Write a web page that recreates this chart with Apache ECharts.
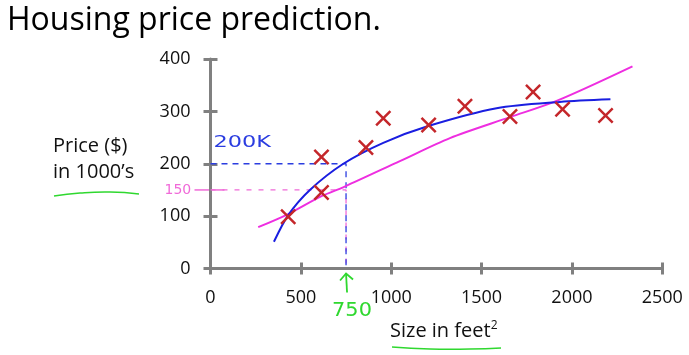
<!DOCTYPE html>
<html>
<head>
<meta charset="utf-8">
<script src="https://cdn.jsdelivr.net/npm/echarts@6/dist/echarts.min.js"></script>
<style>
  html, body { margin: 0; padding: 0; background: #fff; }
  #main { width: 689px; height: 355px; }
</style>
</head>
<body>
<div id="main"></div>
<script>
var dom = document.getElementById('main');
var myChart = echarts.init(dom);

// training examples (size in feet^2, price in $1000's)
var sizes  = [430, 614, 614, 860, 956, 1207, 1408, 1657, 1785, 1948, 2186];
var prices = [99, 145, 213, 231, 287, 274, 310, 290, 337, 304, 292];

// hand drawn straight-ish fit (magenta)
var lineX = [264, 430, 614, 740, 1048, 1325, 1657, 1915, 2335];
var lineY = [79, 104, 138, 156, 205, 249, 289, 320, 386];

// hand drawn quadratic-ish fit (blue)
var curveX = [351, 430, 550, 735, 956, 1205, 1583, 1933, 2213];
var curveY = [51, 102, 150, 200, 240, 272, 306, 318, 323];

// prediction for a 750 ft^2 house
var querySize = 750;
var predBlue = 200;
var predPink = 150;

var xTicks = [0, 500, 1000, 1500, 2000, 2500];
var yTicks = [0, 100, 200, 300, 400];

function zip(a, b) {
  return a.map(function (v, i) { return [v, b[i]]; });
}

var axisGray = '#808080';
var labelFont = { color: '#111', fontSize: 18, fontFamily: 'Open Sans', formatter: function (v) { return String(v); } };
var crossSymbol = 'path://M0,2.2L2.2,0L10,7.8L17.8,0L20,2.2L12.2,10L20,17.8L17.8,20L10,12.2L2.2,20L0,17.8L7.8,10Z';

var option = {
  animation: false,
  grid: { left: 210.5, right: 26.7, top: 59, bottom: 86.5 },
  xAxis: [{
    type: 'value', min: xTicks[0], max: xTicks[xTicks.length - 1], interval: 500,
    splitLine: { show: false },
    axisLine: { lineStyle: { color: axisGray, width: 3 } },
    axisTick: { length: 6, lineStyle: { color: axisGray, width: 3 } },
    axisLabel: Object.assign({ margin: 20 }, labelFont)
  }, {
    type: 'value', position: 'bottom', min: 0, max: 2500, interval: 500,
    splitLine: { show: false },
    axisLine: { show: false },
    axisTick: { inside: true, length: 6, lineStyle: { color: axisGray, width: 3 } },
    axisLabel: { show: false }
  }],
  yAxis: [{
    type: 'value', min: yTicks[0], max: yTicks[yTicks.length - 1], interval: 100,
    splitLine: { show: false },
    axisLine: { show: true, lineStyle: { color: axisGray, width: 3 } },
    axisTick: { show: true, length: 7, lineStyle: { color: axisGray, width: 3 } },
    axisLabel: Object.assign({ margin: 20 }, labelFont)
  }, {
    type: 'value', position: 'left', min: 0, max: 400, interval: 100,
    splitLine: { show: false },
    axisLine: { show: false },
    axisTick: { show: true, inside: true, length: 7, lineStyle: { color: axisGray, width: 3 } },
    axisLabel: { show: false }
  }],
  series: [{
    name: 'pred150',
    type: 'line',
    data: [[0, predPink], [querySize, predPink], [querySize, 0]],
    symbol: 'none',
    lineStyle: { color: '#f06ad8', width: 1.3, type: [5, 7] },
    z: 1
  }, {
    name: 'pred200',
    type: 'line',
    data: [[0, predBlue], [querySize, predBlue], [querySize, 0]],
    symbol: 'none',
    lineStyle: { color: '#2b3de0', width: 1.3, type: [6, 5] },
    z: 2
  }, {
    name: 'straight',
    type: 'line',
    data: zip(lineX, lineY),
    smooth: 0.3,
    symbol: 'none',
    lineStyle: { color: '#ee2ee0', width: 2 },
    z: 3
  }, {
    name: 'curve',
    type: 'line',
    data: zip(curveX, curveY),
    smooth: 0.3,
    symbol: 'none',
    lineStyle: { color: '#1a1ee0', width: 2 },
    z: 4
  }, {
    name: 'houses',
    type: 'scatter',
    data: zip(sizes, prices),
    symbol: crossSymbol,
    symbolSize: 16,
    itemStyle: { color: '#c4262a', opacity: 1 },
    z: 5
  }],
  graphic: []
};

myChart.setOption(option, true);

// annotations placed through the chart's own scale
var qTop = myChart.convertToPixel({ xAxisIndex: 0, yAxisIndex: 0 }, [querySize, 0]);
var p200 = myChart.convertToPixel({ xAxisIndex: 0, yAxisIndex: 0 }, [0, predBlue]);
var p150 = myChart.convertToPixel({ xAxisIndex: 0, yAxisIndex: 0 }, [0, predPink]);
var green = '#2fd82f';

myChart.setOption({
  graphic: [{
    type: 'text', left: 7, top: 5,
    style: { text: 'Housing price prediction.', fill: '#000', font: '32px "Open Sans"' }
  }, {
    type: 'text', left: 53, top: 136,
    style: { text: 'Price ($)', fill: '#111', font: '20px "Open Sans"' }
  }, {
    type: 'text', left: 53, top: 162,
    style: { text: 'in 1000\u2019s', fill: '#111', font: '20px "Open Sans"' }
  }, {
    type: 'polyline',
    shape: { points: [[54, 196], [80, 193], [110, 192], [139, 194]], smooth: 0.5 },
    style: { stroke: green, lineWidth: 1.5, fill: null }
  }, {
    type: 'text', left: 390, top: 320,
    style: { rich: {
      a: { fill: '#111', font: '20px "Open Sans"' },
      s: { fill: '#111', font: '12px "Open Sans"', verticalAlign: 'top', padding: [0, 0, 10, 0] }
    }, text: '{a|Size in feet}{s|2}' }
  }, {
    type: 'polyline',
    shape: { points: [[392, 347], [430, 349], [470, 349], [501, 348]], smooth: 0.5 },
    style: { stroke: green, lineWidth: 1.5, fill: null }
  }, {
    type: 'polyline',
    shape: { points: [[qTop[0], qTop[1] + 5], [qTop[0] + 1, qTop[1] + 24]] },
    style: { stroke: green, lineWidth: 1.8, fill: null }
  }, {
    type: 'polyline',
    shape: { points: [[qTop[0] - 6, qTop[1] + 12], [qTop[0], qTop[1] + 5], [qTop[0] + 7, qTop[1] + 11]] },
    style: { stroke: green, lineWidth: 1.8, fill: null }
  }, {
    type: 'text', x: qTop[0] - 14, y: qTop[1] + 33, scaleX: 1.1,
    style: { text: '750', fill: green, font: '19px "DejaVu Sans"' }
  }, {
    type: 'text', x: p200[0] + 3, y: p200[1] - 29, scaleX: 1.4,
    style: { text: '200K', fill: '#2b3de0', font: '16px "DejaVu Sans"' }
  }, {
    type: 'text', x: p150[0] - 46, y: p150[1] - 7,
    style: { text: '150', fill: '#f06ad8', font: '14px "DejaVu Sans"' }
  }, {
    type: 'line',
    shape: { x1: p150[0] - 16, y1: p150[1], x2: p150[0] + 14, y2: p150[1] },
    style: { stroke: '#f06ad8', lineWidth: 1.5 }
  }]
});
</script>
</body>
</html>
